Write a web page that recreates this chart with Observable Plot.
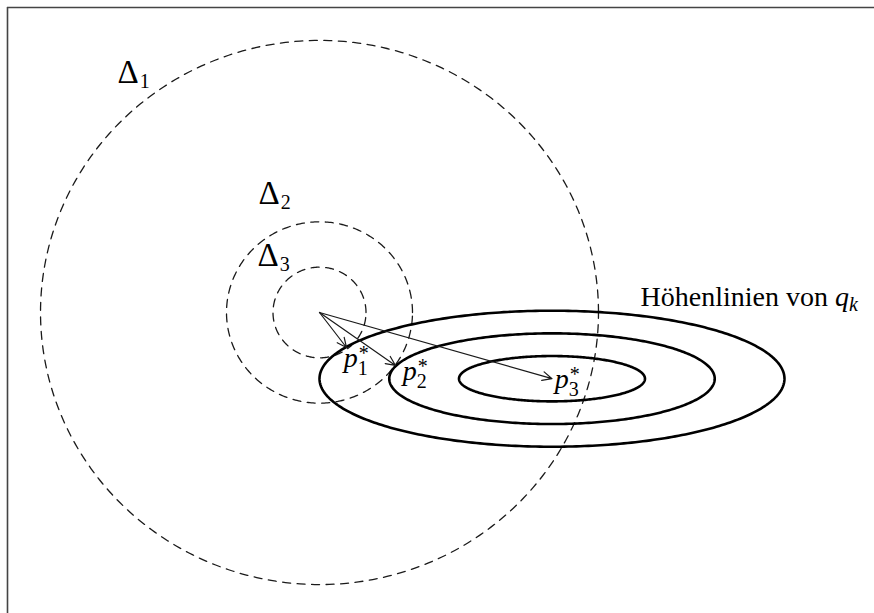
<!DOCTYPE html>
<html>
<head>
<meta charset="utf-8">
<script src="https://cdn.jsdelivr.net/npm/d3@7"></script>
<script src="https://cdn.jsdelivr.net/npm/@observablehq/plot@0.6"></script>
<style>
  html, body { margin: 0; padding: 0; background: #fff; }
  #chart svg { display: block; }
</style>
</head>
<body>
<div id="chart"></div>
<script>
// Neighbourhoods Δ_k: circles around the current iterate (dashed)
const circleNames = ["Δ1", "Δ2", "Δ3"];
const circleCx = [0, 0, 0];
const circleCy = [0, 0, 0];
const circleR = [3, 1, 0.5];

// Level curves of q_k (solid ellipses)
const ellipseNames = ["outer", "middle", "inner"];
const ellipseCx = [2.5, 2.5, 2.5];
const ellipseCy = [-0.73, -0.73, -0.73];
const ellipseA = [2.5, 1.75, 1.0];
const ellipseB = [0.75, 0.5, 0.25];

// Arrows from the centre to the minimisers p*_k
const arrowNames = ["p1", "p2", "p3"];
const arrowX1 = [0, 0, 0];
const arrowY1 = [0, 0, 0];
const arrowX2 = [0.29, 0.817, 2.5];
const arrowY2 = [-0.386, -0.584, -0.73];

// Labels
const labelPre = ["", "", "", "", "", "", "Höhenlinien von "];
const labelMain = ["Δ", "Δ", "Δ", "p", "p", "p", "q"];
const labelItalic = [false, false, false, true, true, true, true];
const labelSub = ["1", "2", "3", "1", "2", "3", "k"];
const labelSup = ["", "", "", "*", "*", "*", ""];
const labelX = [-2.172, -0.656, -0.667, 0.26, 0.895, 2.53, 3.452];
const labelY = [2.536, 1.191, 0.518, -0.606, -0.74, -0.838, 0.07];

// Frame edges (left and top)
const frameLeft = [-3.355];
const frameTop = [3.363];

// build shape tables
function ring(cx, cy, rx, ry, name) {
  const pts = [];
  const n = 360;
  for (let i = 0; i <= n; i++) {
    const t = (i / n) * 2 * Math.PI;
    pts.push({name, x: cx + rx * Math.cos(t), y: cy + ry * Math.sin(t)});
  }
  return pts;
}
const circles = circleNames.flatMap((n, i) => ring(circleCx[i], circleCy[i], circleR[i], circleR[i], n));
const ellipses = ellipseNames.flatMap((n, i) => ring(ellipseCx[i], ellipseCy[i], ellipseA[i], ellipseB[i], n));
const arrows = arrowNames.map((n, i) => ({name: n, x1: arrowX1[i], y1: arrowY1[i], x2: arrowX2[i], y2: arrowY2[i]}));
const labels = labelMain.map((m, i) => ({pre: labelPre[i], main: m, italic: labelItalic[i], sub: labelSub[i], sup: labelSup[i], x: labelX[i], y: labelY[i]}));

const FONT = "'Liberation Serif', 'DejaVu Serif', serif";
const FS = 28;

const plot = Plot.plot({
  width: 874,
  height: 613,
  marginLeft: 7,
  marginTop: 7,
  marginRight: 0,
  marginBottom: 0,
  x: {domain: [-3.355, 5.968], axis: null},
  y: {domain: [-3.319, 3.363], axis: null},
  style: {fontFamily: FONT, background: "#fff"},
  marks: [
    Plot.ruleX(frameLeft, {stroke: "#444", strokeWidth: 1.6}),
    Plot.ruleY(frameTop, {stroke: "#444", strokeWidth: 1.6}),
    Plot.line(circles, {x: "x", y: "y", z: "name", stroke: "#1a1a1a", strokeWidth: 1.3, strokeDasharray: "8,6.5", curve: "linear"}),
    Plot.line(ellipses, {x: "x", y: "y", z: "name", stroke: "#000", strokeWidth: 2.6, curve: "linear"}),
    Plot.arrow(arrows, {x1: "x1", y1: "y1", x2: "x2", y2: "y2", stroke: "#1a1a1a", strokeWidth: 1.2, headLength: 13, headAngle: 50}),
    Plot.text(labels, {x: "x", y: "y", text: d => d.pre + d.main, textAnchor: "start", lineAnchor: "bottom", fontSize: FS, fill: "#000"})
  ]
});

document.getElementById("chart").appendChild(plot);

// rich text: subscripts / superscripts as tspans
const svgNS = "http://www.w3.org/2000/svg";
const texts = Array.from(plot.querySelectorAll("text"));
texts.forEach((el, k) => {
  const d = labels[k];
  if (!d) return;
  const x0 = parseFloat(el.getAttribute("x")) || 0;
  while (el.firstChild) el.removeChild(el.firstChild);
  const add = (txt, attrs, style) => {
    const ts = document.createElementNS(svgNS, "tspan");
    for (const a in attrs) ts.setAttribute(a, attrs[a]);
    if (style) ts.setAttribute("style", style);
    ts.textContent = txt;
    el.appendChild(ts);
    return ts;
  };
  if (d.pre) add(d.pre, {}, "font-style:normal");
  const big = d.main === "Δ" ? "font-size:" + (FS + 5) + "px;" : "";
  add(d.main, {}, big + (d.italic ? "font-style:italic" : "font-style:normal"));
  let w = 0;
  try { w = el.getComputedTextLength(); } catch (e) { w = d.pre.length * FS * 0.45 + FS * 0.55; }
  const sfs = Math.round(FS * 0.7);
  let cur = 0;
  if (d.sup) {
    add(d.sup, {x: x0 + w + 1, dy: -7, "font-size": sfs}, "font-style:normal");
    cur = -7;
  }
  const subOff = d.sup ? 8 : 5;
  add(d.sub, {x: x0 + w + (d.italic ? 0 : 1), dy: subOff - cur, "font-size": sfs},
      d.sub === "k" ? "font-style:italic" : "font-style:normal");
});
</script>
</body>
</html>
